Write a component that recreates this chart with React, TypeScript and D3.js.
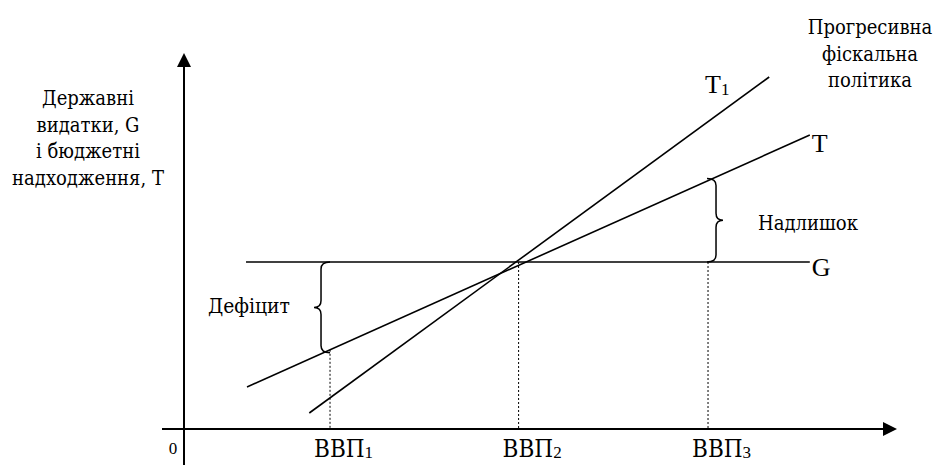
import React from "react";
import * as d3 from "d3";

// Data (economic units on a 0–100 scale for both axes)
const gLevel = 41.75;
const gRange = [8.86, 89.4];
const tLine = [
  { gdp: 9.0, v: 10.5 },
  { gdp: 89.4, v: 73.5 },
];
const t1Line = [
  { gdp: 17.9, v: 4.0 },
  { gdp: 83.6, v: 88.0 },
];
const gdpTicks = [20.86, 47.8, 74.86];
const gdpLabels = ["ВВП", "ВВП", "ВВП"];
const gdpSubs = ["1", "2", "3"];
const yTitle = ["Державні", "видатки, G", "і бюджетні", "надходження, T"];
const policyTitle = ["Прогресивна", "фіскальна", "політика"];

const W = 935;
const H = 465;
const FONT = "'DejaVu Serif Condensed', 'DejaVu Serif', serif";
const LAT = "'Liberation Serif', serif";

const x = d3.scaleLinear().domain([0, 100]).range([184, 884]);
const y = d3.scaleLinear().domain([0, 100]).range([429, 29]);

function valueAt(pts: { gdp: number; v: number }[], g: number) {
  const t = (g - pts[0].gdp) / (pts[1].gdp - pts[0].gdp);
  return d3.interpolateNumber(pts[0].v, pts[1].v)(t);
}

function brace(xEnd: number, yTop: number, yBot: number, dir: number) {
  const xv = xEnd + dir * 9;
  const xt = xEnd + dir * 16;
  const ym = (yTop + yBot) / 2;
  const r = 7;
  return [
    `M${xEnd},${yTop}`,
    `Q${xv},${yTop} ${xv},${yTop + r}`,
    `L${xv},${ym - r}`,
    `Q${xv},${ym} ${xt},${ym}`,
    `Q${xv},${ym} ${xv},${ym + r}`,
    `L${xv},${yBot - r}`,
    `Q${xv},${yBot} ${xEnd},${yBot}`,
  ].join(" ");
}

export default function App() {
  const line = d3
    .line<{ gdp: number; v: number }>()
    .x((d) => x(d.gdp))
    .y((d) => y(d.v));

  const yAxisX = x(0);
  const xAxisY = y(0);
  const tAt1 = valueAt(tLine, gdpTicks[0]);
  const tAt3 = valueAt(tLine, gdpTicks[2]);
  const ts = { fontFamily: FONT, fill: "#000" } as React.CSSProperties;
  const tl = { fontFamily: LAT, fill: "#000" } as React.CSSProperties;

  return (
    <svg
      width={W}
      height={H}
      style={{ position: "fixed", left: 0, top: 0, background: "#fff" }}
    >
      <rect width={W} height={H} fill="#fff" />
      {/* axes */}
      <line x1={yAxisX} x2={yAxisX} y1={64} y2={H} stroke="#000" strokeWidth={2} />
      <path d={`M${yAxisX},53 L${yAxisX - 7},67 L${yAxisX + 7},67 Z`} fill="#000" />
      <line x1={162} x2={884} y1={xAxisY} y2={xAxisY} stroke="#000" strokeWidth={2} />
      <path d={`M897,${xAxisY} L883,${xAxisY - 7} L883,${xAxisY + 7} Z`} fill="#000" />
      <text style={tl} x={173} y={454} fontSize={17} textAnchor="middle">0</text>

      {/* dashed guides */}
      <line x1={x(gdpTicks[0])} x2={x(gdpTicks[0])} y1={y(tAt1)} y2={xAxisY} stroke="#000" strokeWidth={1} strokeDasharray="2,2" />
      <line x1={x(gdpTicks[1])} x2={x(gdpTicks[1])} y1={y(gLevel)} y2={xAxisY} stroke="#000" strokeWidth={1} strokeDasharray="2,2" />
      <line x1={x(gdpTicks[2])} x2={x(gdpTicks[2])} y1={y(gLevel)} y2={xAxisY} stroke="#000" strokeWidth={1} strokeDasharray="2,2" />

      {/* G, T, T1 */}
      <line x1={x(gRange[0])} x2={x(gRange[1])} y1={y(gLevel)} y2={y(gLevel)} stroke="#000" strokeWidth={1.6} />
      <path d={line(tLine) || ""} stroke="#000" strokeWidth={1.6} fill="none" />
      <path d={line(t1Line) || ""} stroke="#000" strokeWidth={1.6} fill="none" />

      {/* braces */}
      <path d={brace(x(gdpTicks[0]), y(gLevel), y(tAt1) + 3, -1)} stroke="#000" strokeWidth={1.5} fill="none" />
      <path d={brace(x(gdpTicks[2]) - 1, y(tAt3) - 2, y(gLevel), 1)} stroke="#000" strokeWidth={1.5} fill="none" />

      {/* labels */}
      <text style={ts} x={208} y={313} fontSize={20} textLength={82} lengthAdjust="spacingAndGlyphs">Дефіцит</text>
      <text style={ts} x={758} y={230} fontSize={20} textLength={100} lengthAdjust="spacingAndGlyphs">Надлишок</text>
      <text style={tl} x={x(gRange[1]) + 2} y={276} fontSize={26}>G</text>
      <text style={tl} x={x(tLine[1].gdp) + 2} y={152} fontSize={26}>T</text>
      <text style={tl} x={705} y={93} fontSize={26}>
        T<tspan fontSize={17} dy={2}>1</tspan>
      </text>

      {yTitle.map((s, i) => (
        <text style={ts} key={s} x={88} y={105 + i * 26.5} fontSize={20} textAnchor="middle">{s}</text>
      ))}
      {policyTitle.map((s, i) => (
        <text style={ts} key={s} x={870} y={34 + i * 26.5} fontSize={20} textAnchor="middle">{s}</text>
      ))}

      {gdpTicks.map((g, i) => (
        <text style={ts} key={i} x={x(g) - 16} y={457} fontSize={24}>
          {gdpLabels[i]}
          <tspan style={tl} fontSize={17} dy={1}>{gdpSubs[i]}</tspan>
        </text>
      ))}
    </svg>
  );
}
